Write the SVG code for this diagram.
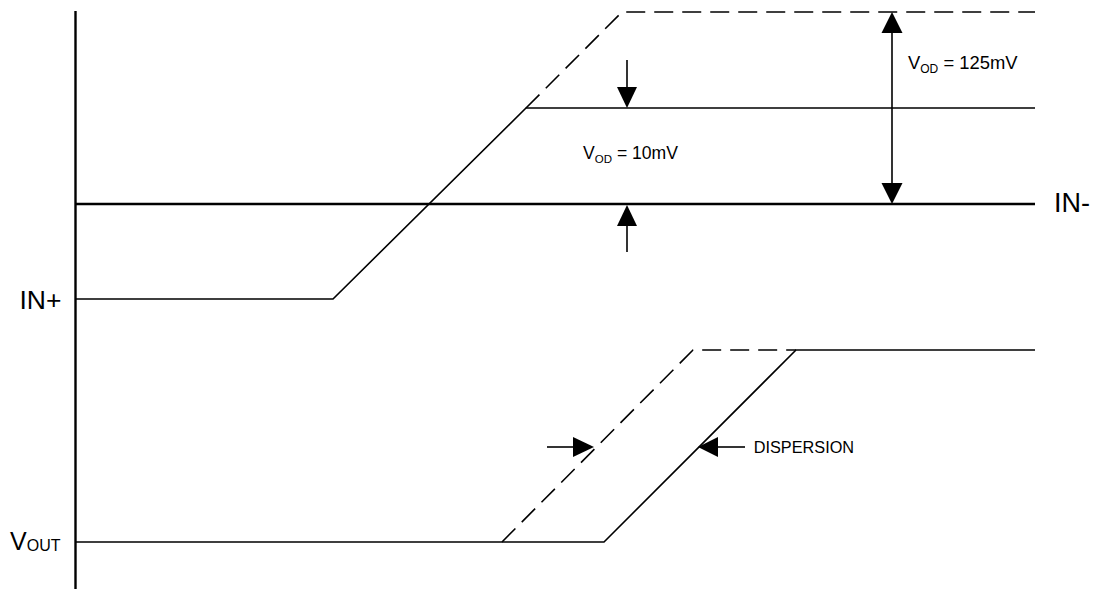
<svg xmlns="http://www.w3.org/2000/svg" width="1098" height="589" viewBox="0 0 1098 589">
<style>
.ln{fill:none;stroke:#000;stroke-width:1.6}
.dash{fill:none;stroke:#000;stroke-width:1.6;stroke-dasharray:19 9}
.thick{fill:none;stroke:#000;stroke-width:2.4}
.ah{fill:#000}
.t{font-family:"Liberation Sans",Arial,sans-serif;fill:#000}
</style>
<rect width="1098" height="589" fill="#fff"/>
<g id="axis">
<line x1="75.5" y1="11" x2="75.5" y2="589" class="thick"/>
</g>
<g id="in-minus">
<line x1="76" y1="204" x2="1035" y2="204" class="thick"/>
<text class="t" x="1054" y="211.5" font-size="27">IN-</text>
</g>
<g id="in-plus">
<polyline points="76,299 333,299 526,108 1035,108" class="ln"/>
<polyline points="526,108 622,12 1035,12" class="dash"/>
<text class="t" x="19.5" y="309" font-size="26.5">IN+</text>
</g>
<g id="vout">
<polyline points="76,542 604,542 796,350 1035,350" class="ln"/>
<polyline points="502,542 693,350 796,350" class="dash"/>
<text class="t" x="10" y="550" font-size="25">V<tspan font-size="16" dy="1">OUT</tspan></text>
</g>
<g id="labels">
<text class="t" x="908" y="69.3" font-size="18.4">V<tspan font-size="12" dy="4">OD</tspan><tspan dy="-4"> = 125mV</tspan></text>
<text class="t" x="583" y="159.3" font-size="17.6">V<tspan font-size="11.5" dy="4">OD</tspan><tspan dy="-4"> = 10mV</tspan></text>
<text class="t" x="753.7" y="452.7" font-size="16.3">DISPERSION</text>
</g>
<g id="connectors">
<line x1="627" y1="60" x2="627" y2="88" class="ln"/>
<polygon points="617,87 637,87 627,108" class="ah"/>
<line x1="627" y1="252" x2="627" y2="225" class="ln"/>
<polygon points="617,226 637,226 627,205" class="ah"/>
<line x1="892" y1="32" x2="892" y2="184" class="ln"/>
<polygon points="881.5,33 902.5,33 892,12" class="ah"/>
<polygon points="881.5,183 902.5,183 892,204" class="ah"/>
<line x1="547" y1="447" x2="574" y2="447" class="ln"/>
<polygon points="573,437 573,457 594,447" class="ah"/>
<line x1="745" y1="447" x2="717" y2="447" class="ln"/>
<polygon points="718,437 718,457 698,447" class="ah"/>
</g>
</svg>
